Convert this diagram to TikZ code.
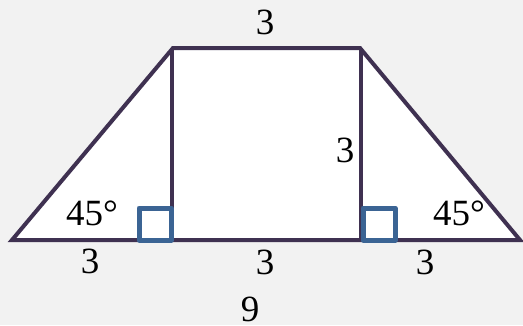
\documentclass[tikz,border=0pt]{standalone}
\usepackage{fontspec}
\setmainfont{Liberation Serif}
\definecolor{bgc}{HTML}{F2F2F2}
\definecolor{edgec}{HTML}{3F3151}
\definecolor{sqc}{HTML}{3B6494}
\begin{document}
\begin{tikzpicture}[x=1pt,y=-1pt,
  edge/.style={draw=edgec,line width=4pt,line join=miter},
  sq/.style={draw=sqc,line width=5pt,line join=round},
  lbl/.style={inner sep=0pt,font=\fontsize{37}{40}\selectfont}]
\fill[bgc] (0,0) rectangle (523,325);
\useasboundingbox (0,0) rectangle (523,325);
\coordinate (A) at (12,240);
\coordinate (B) at (173,48);
\coordinate (C) at (360,48);
\coordinate (D) at (520,240);
\coordinate (P) at (172,48);
\coordinate (Q) at (172,240);
\coordinate (R) at (361,48);
\coordinate (S) at (361,240);
\fill[white] (A) -- (B) -- (C) -- (D) -- cycle;
\draw[edge] (A) -- (B) -- (C) -- (D) -- cycle;
\draw[edge] (P) -- (Q);
\draw[edge] (R) -- (S);
\draw[sq] (139,208) rectangle (171,240);
\draw[sq] (363,208) rectangle (395,240);
\node[lbl] (t) at (265,22) {3};
\node[lbl] (r) at (345,150) {3};
\node[lbl] (al) at (92,213) {45°};
\node[lbl] (ar) at (459,213) {45°};
\node[lbl] (b1) at (90,261) {3};
\node[lbl] (b2) at (265,262) {3};
\node[lbl] (b3) at (425,262) {3};
\node[lbl] (n) at (250,309) {9};
\end{tikzpicture}
\end{document}
